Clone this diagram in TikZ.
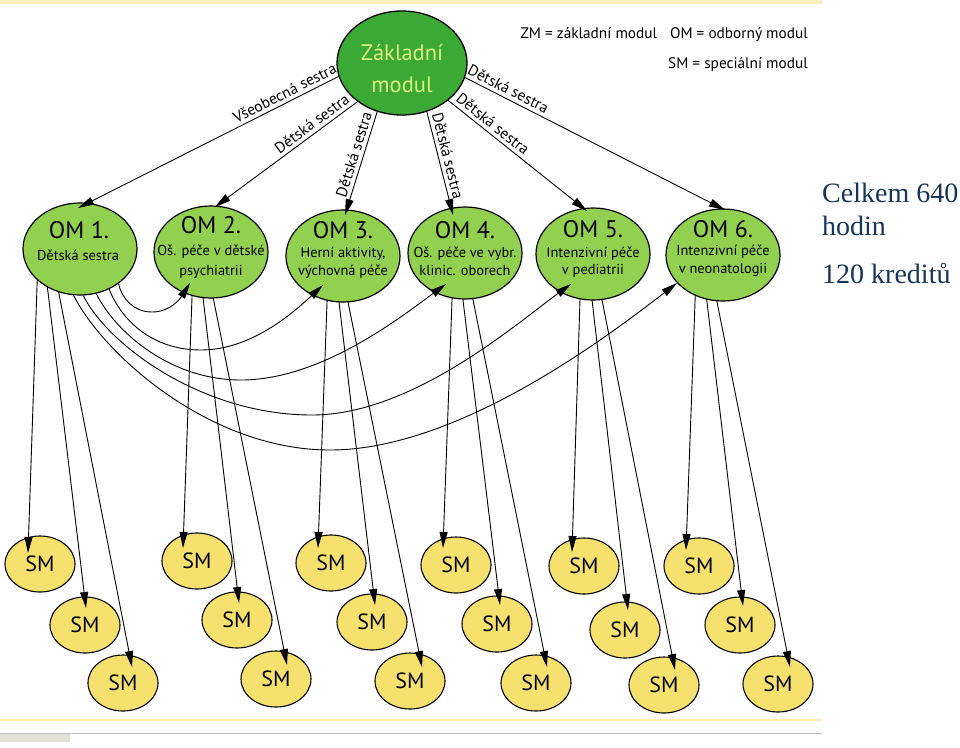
\documentclass[tikz,border=0pt]{standalone}
\usepackage{fontspec}
\setmainfont{PT Sans}
\newfontfamily\serfont{Liberation Serif}
\usetikzlibrary{shapes.geometric,arrows.meta,calc}
\definecolor{zmfill}{RGB}{58,170,53}
\definecolor{zmtext}{RGB}{222,240,130}
\definecolor{omfill}{RGB}{146,208,80}
\definecolor{smfill}{RGB}{246,225,110}
\definecolor{navy}{RGB}{22,54,92}
\definecolor{bandyellow}{RGB}{250,240,185}
\definecolor{lavline}{RGB}{190,190,215}
\definecolor{greyrect}{RGB}{226,226,212}
\pgfdeclarelayer{bottom}
\pgfdeclarelayer{back}
\pgfdeclarelayer{mid}
\pgfdeclarelayer{front}
\pgfsetlayers{bottom,back,mid,main,front}
\tikzset{
  zmnode/.style={ellipse, draw=black, line width=1.3pt, fill=zmfill, minimum width=130pt, minimum height=104pt, inner sep=0pt},
  zmtxt/.style={anchor=base, inner sep=0pt, text=zmtext, font=\fontsize{22.5}{22.5}\selectfont},
  omnode/.style={ellipse, draw=black, line width=1.2pt, fill=omfill, minimum width=114pt, minimum height=92pt, inner sep=0pt},
  smnode/.style={ellipse, draw=black, line width=1.1pt, fill=smfill, minimum width=70pt, minimum height=56pt, inner sep=0pt, font=\fontsize{22}{22}\selectfont},
  omtitle/.style={anchor=base, inner sep=0pt, font=\fontsize{24}{24}\selectfont},
  omsub/.style={anchor=base, inner sep=0pt, font=\fontsize{14.4}{18}\selectfont},
  arr/.style={line width=0.9pt, -{Triangle[length=16pt,width=8pt]}},
  elab/.style={sloped, above, inner sep=3.5pt, font=\fontsize{15.5}{15.5}\selectfont},
  legend/.style={anchor=base east, inner sep=0pt, font=\fontsize{15.3}{15.3}\selectfont},
  sidetext/.style={anchor=base west, inner sep=0pt, text=navy, font=\serfont\fontsize{28}{33}\selectfont, align=left}
}
\begin{document}
\begin{tikzpicture}[x=1pt,y=-1pt]
\useasboundingbox (0,0) rectangle (960,747);
\begin{pgfonlayer}{bottom}
\fill[white] (0,0) rectangle (960,747);
% frame decorations
\fill[bandyellow] (0,0) rectangle (822,4);
\draw[bandyellow, line width=2pt] (0,720) -- (822,720);
\draw[lavline, line width=0.8pt] (0,733) -- (822,733);
\fill[greyrect] (0,734) rectangle (70,742);
\end{pgfonlayer}

% special modules
\begin{pgfonlayer}{back}
\node[smnode] (sm1a) at (40,564) {SM};
\node[smnode] (sm1b) at (85,625) {SM};
\node[smnode] (sm1c) at (123,683) {SM};
\node[smnode] (sm2a) at (197,561) {SM};
\node[smnode] (sm2b) at (237,620) {SM};
\node[smnode] (sm2c) at (276,679) {SM};
\node[smnode] (sm3a) at (331,563) {SM};
\node[smnode] (sm3b) at (372,622) {SM};
\node[smnode] (sm3c) at (410,681) {SM};
\node[smnode] (sm4a) at (456,565) {SM};
\node[smnode] (sm4b) at (497,624) {SM};
\node[smnode] (sm4c) at (536,683) {SM};
\node[smnode] (sm5a) at (584,566) {SM};
\node[smnode] (sm5b) at (625,630) {SM};
\node[smnode] (sm5c) at (664,685) {SM};
\node[smnode] (sm6a) at (699,566) {SM};
\node[smnode] (sm6b) at (740,625) {SM};
\node[smnode] (sm6c) at (778,684) {SM};
\end{pgfonlayer}

% main and professional modules
\node[zmnode] (zm) at (402,63) {};
\node[zmtxt] (zmt1) at (402,60) {Základní};
\node[zmtxt] (zmt2) at (402,92) {modul};

\node[omnode] (om1) at (80,249) {};
\node[omnode] (om2) at (211,252) {};
\node[omnode] (om3) at (343,256) {};
\node[omnode] (om4) at (465,253) {};
\node[omnode] (om5) at (593,254) {};
\node[omnode] (om6) at (723,255) {};

\node[omtitle] (om1t) at (79,238) {OM 1.};
\node[omsub] (om1s) at (78,260) {Dětská sestra};
\node[omtitle] (om2t) at (211,233) {OM 2.};
\node[omsub] (om2s) at (211,255) {Oš. péče v dětské};
\node[omsub] (om2u) at (211,275) {psychiatrii};
\node[omtitle] (om3t) at (343,238) {OM 3.};
\node[omsub] (om3s) at (343,257) {Herní aktivity,};
\node[omsub] (om3u) at (343,275) {výchovná péče};
\node[omtitle] (om4t) at (465,238) {OM 4.};
\node[omsub] (om4s) at (465,257) {Oš. péče ve vybr.};
\node[omsub] (om4u) at (465,275) {klinic. oborech};
\node[omtitle] (om5t) at (593,237) {OM 5.};
\node[omsub] (om5s) at (593,257) {Intenzivní péče};
\node[omsub] (om5u) at (593,274) {v pediatrii};
\node[omtitle] (om6t) at (723,237) {OM 6.};
\node[omsub] (om6s) at (723,255) {Intenzivní péče};
\node[omsub] (om6u) at (723,273) {v neonatologii};

% OM -> SM connectors
\begin{pgfonlayer}{mid}
\draw[arr] ($(om1)+(-42.4,20)$) -- ($(sm1a)+(-12,-11)$);
\draw[arr] ($(om1)+(-34.8,20)$) -- ($(sm1b)+(1,-17)$);
\draw[arr] ($(om1)+(-25.9,20)$) -- ($(sm1c)+(9,-16)$);
\draw[arr] ($(om2)+(-18.1,20)$) -- ($(sm2a)+(-14,-13)$);
\draw[arr] ($(om2)+(-11,20)$) -- ($(sm2b)+(2,-17)$);
\draw[arr] ($(om2)+(-3,20)$) -- ($(sm2c)+(11,-14)$);
\draw[arr] ($(om3)+(-15,20)$) -- ($(sm3a)+(-13,-15)$);
\draw[arr] ($(om3)+(-7.1,20)$) -- ($(sm3b)+(3,-17)$);
\draw[arr] ($(om3)+(-0.3,20)$) -- ($(sm3c)+(12,-14)$);
\draw[arr] ($(om4)+(-12,20)$) -- ($(sm4a)+(-13,-17)$);
\draw[arr] ($(om4)+(-5.3,20)$) -- ($(sm4b)+(3,-19)$);
\draw[arr] ($(om4)+(2.6,20)$) -- ($(sm4c)+(11,-16)$);
\draw[arr] ($(om5)+(-12.2,20)$) -- ($(sm5a)+(-12,-14)$);
\draw[arr] ($(om5)+(-4,20)$) -- ($(sm5b)+(3,-20)$);
\draw[arr] ($(om5)+(3.9,20)$) -- ($(sm5c)+(11,-15)$);
\draw[arr] ($(om6)+(-27,20)$) -- ($(sm6a)+(-13,-16)$);
\draw[arr] ($(om6)+(-19.2,20)$) -- ($(sm6b)+(3,-19)$);
\draw[arr] ($(om6)+(-11.4,20)$) -- ($(sm6c)+(12,-17)$);
\end{pgfonlayer}

\begin{pgfonlayer}{front}
% ZM -> OM connectors
\draw[arr] (zm.192) -- node[elab, pos=0.19] {Všeobecná sestra} ($(om1)+(-2,-41)$);
\draw[arr] (zm.221) -- node[elab, pos=0.28] {Dětská sestra} ($(om2)+(4,-45)$);
\draw[arr] (zm.243) -- node[elab, pos=0.44] {Dětská sestra} ($(om3)+(2,-41)$);
\draw[arr] (zm.297) -- node[elab, pos=0.45] {Dětská sestra} ($(om4)+(-12,-38)$);
\draw[arr] (zm.321) -- node[elab, pos=0.28] {Dětská sestra} ($(om5)+(-6,-43)$);
\draw[arr] (zm.347.5) -- node[elab, pos=0.15] {Dětská sestra} ($(om6)+(2,-45)$);
% OM1 -> other OM arcs
\draw[arr] (om1.318) .. controls (122,299) and (134,312) .. (152,312) .. controls (170,312) and (180,299) .. ($(om2)+(-21,31)$);
\draw[arr] (om1.306) .. controls (121,319) and (151,350) .. (201,350) .. controls (251,350) and (293,313) .. ($(om3)+(-20,29)$);
\draw[arr] (om1.290) .. controls (116,333) and (171,380) .. (241,380) .. controls (321,380) and (401,317) .. ($(om4)+(-19,31)$);
\draw[arr] (om1.274) .. controls (108,345) and (202,415) .. (312,415) .. controls (412,415) and (516,324) .. ($(om5)+(-22,30)$);
\draw[arr] (om1.262.5) .. controls (104,355) and (210,450) .. (330,450) .. controls (460,450) and (612,333) .. ($(om6)+(-46,28)$);
\end{pgfonlayer}

% legend
\node[legend] (leg1) at (808,38) {ZM = základní modul\hspace{13pt}OM = odborný modul};
\node[legend] (leg2) at (808,68) {SM = speciální modul};

% side text
\node[sidetext] (side1) at (822,235) {Celkem 640\\hodin};
\node[sidetext] (side2) at (822,283) {120 kreditů};
\end{tikzpicture}
\end{document}
